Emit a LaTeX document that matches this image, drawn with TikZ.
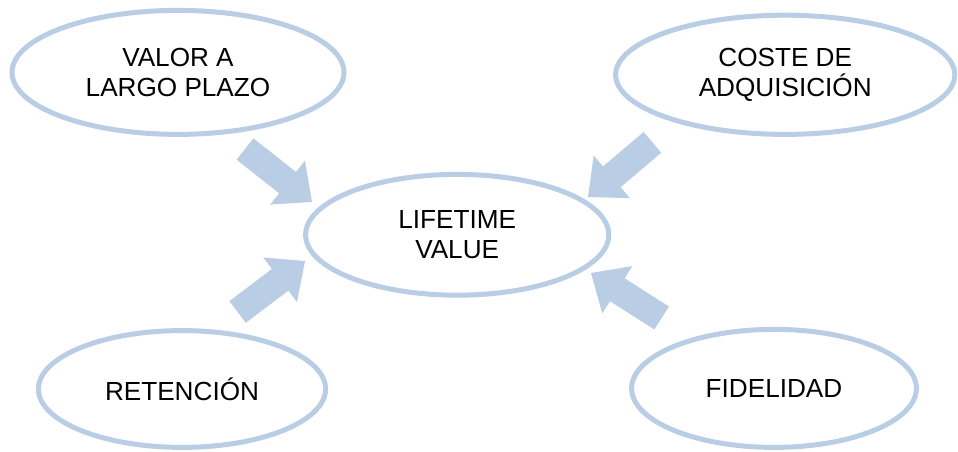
\documentclass[tikz,border=0pt]{standalone}
\usepackage{fontspec}
\setmainfont{Liberation Sans}
\usetikzlibrary{shapes.geometric, calc}

\definecolor{lightblue}{RGB}{185,205,229}

\tikzset{
  bubble/.style={ellipse, draw=lightblue, line width=0.125cm, inner sep=0pt,
    align=center, font=\fontsize{18.6}{21.3}\selectfont},
  arrowfill/.style={fill=lightblue}
}

% block arrow from tail #1 to tip #2
\newcommand{\blockarrow}[2]{%
  \coordinate (hb) at ($(#2)!0.78cm!(#1)$);
  \fill[arrowfill] ($(#1)!0.34cm!90:(#2)$) -- ($(hb)!0.34cm!-90:(#1)$)
    -- ($(hb)!0.7cm!-90:(#1)$) -- (#2) -- ($(hb)!0.7cm!90:(#1)$)
    -- ($(hb)!0.34cm!90:(#1)$) -- ($(#1)!0.34cm!-90:(#2)$) -- cycle;
}

\begin{document}
\begin{tikzpicture}
        \useasboundingbox (0,0) rectangle (23.95,11.3);

        % Draw the central ellipse and the four around it
        \node[bubble, minimum width=7.58cm, minimum height=3.02cm] (ltv) at (11.43,5.43) {LIFETIME\\VALUE};
        \node[bubble, minimum width=8.3cm, minimum height=3.1cm] (vlp) at (4.45,9.49) {VALOR A\\LARGO PLAZO};
        \node[bubble, minimum width=8.48cm, minimum height=2.98cm] (cda) at (19.63,9.43) {COSTE DE\\ADQUISICIÓN};
        \node[bubble, minimum width=7.18cm, minimum height=2.92cm] (ret) at (4.55,1.575) {RETENCIÓN};
        \node[bubble, minimum width=7.12cm, minimum height=2.95cm] (fid) at (19.35,1.59) {FIDELIDAD};

        % Tails and tips of the arrows
        \coordinate (vlp-s) at (6.125,7.575);
        \coordinate (vlp-e) at (7.8,6.25);
        \coordinate (cda-s) at (16.31,7.74);
        \coordinate (cda-e) at (14.7,6.375);
        \coordinate (ret-s) at (5.94,3.5);
        \coordinate (ret-e) at (7.625,4.775);
        \coordinate (fid-s) at (16.54,3.35);
        \coordinate (fid-e) at (14.775,4.475);

        % Draw the arrows
        \foreach \s/\e in {vlp-s/vlp-e, cda-s/cda-e, ret-s/ret-e, fid-s/fid-e}
            \blockarrow{\s}{\e};
    \end{tikzpicture}
\end{document}
